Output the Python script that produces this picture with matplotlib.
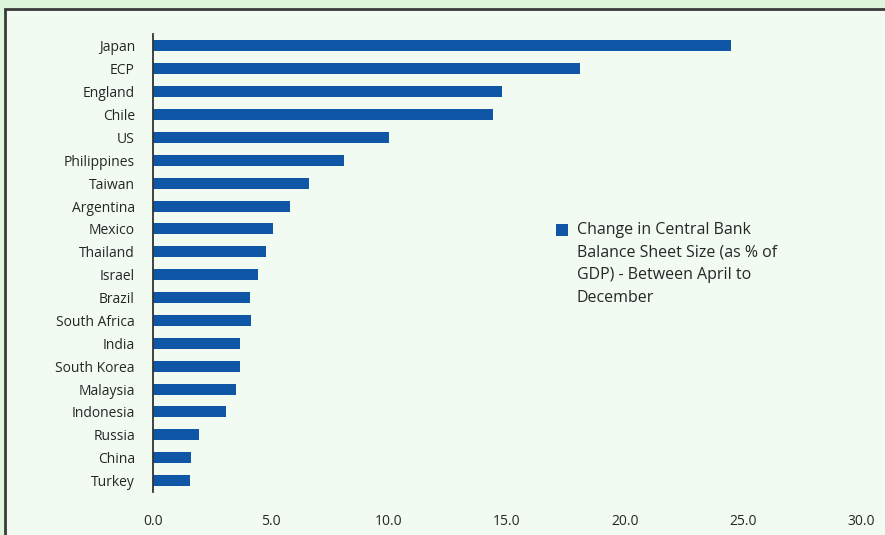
import matplotlib.pyplot as plt
from matplotlib.patches import Rectangle

countries = ['Japan', 'ECP', 'England', 'Chile', 'US', 'Philippines', 'Taiwan',
             'Argentina', 'Mexico', 'Thailand', 'Israel', 'Brazil', 'South Africa',
             'India', 'South Korea', 'Malaysia', 'Indonesia', 'Russia', 'China', 'Turkey']
values = [24.5, 18.1, 14.8, 14.4, 10.0, 8.1, 6.6,
          5.8, 5.1, 4.8, 4.45, 4.1, 4.15,
          3.7, 3.7, 3.5, 3.1, 1.95, 1.6, 1.55]
xticks = [0, 5, 10, 15, 20, 25, 30]
legend_label = 'Change in Central Bank\nBalance Sheet Size (as % of\nGDP) - Between April to\nDecember'

bar_color = '#0f57a6'
panel_color = '#f1fbf1'
outer_color = '#ddf7dc'
text_color = '#262626'

plt.rcParams['font.family'] = ['Open Sans', 'DejaVu Sans']

fig = plt.figure(figsize=(8.85, 5.35), dpi=100)
fig.patch.set_facecolor(outer_color)

W, H = 885, 535
# inner panel with border, kept behind the axes
panel = Rectangle((5 / W, -0.05), 1.0, (H - 9) / H + 0.05, transform=fig.transFigure,
                  facecolor=panel_color, edgecolor='#3a3a3a', linewidth=2, zorder=-5)
fig.patches.append(panel)

ax = fig.add_axes([153 / W, 1 - 492 / H, (861 - 153) / W, (492 - 34.5) / H])
ax.set_facecolor('none')
ax.set_zorder(1)

ypos = list(range(len(countries)))
ax.barh(ypos, values, height=0.48, color=bar_color)
ax.set_ylim(len(countries) - 0.5, -0.5)
ax.set_xlim(0, 30)
ax.set_yticks(ypos)
ax.set_yticklabels(countries, fontsize=10, color=text_color)
ax.set_xticks(xticks)
ax.set_xticklabels([f'{t:.1f}' for t in xticks], fontsize=10, color=text_color)
ax.tick_params(axis='y', length=0, pad=13)
ax.tick_params(axis='x', length=0, pad=16)
for s in ['top', 'right', 'bottom']:
    ax.spines[s].set_visible(False)
ax.spines['left'].set_color('#333333')
ax.spines['left'].set_linewidth(1.3)

# legend drawn by hand so the square sits beside the first line
fig.patches.append(Rectangle((556 / W, 1 - 236 / H), 12 / W, 12 / H,
                             transform=fig.transFigure, facecolor=bar_color,
                             edgecolor='none', zorder=2))
fig.text(577 / W, 1 - 222 / H, legend_label, fontsize=11.5, color=text_color,
         va='top', ha='left', linespacing=1.56, zorder=2)

fig.savefig('out.png', dpi=100, facecolor=fig.get_facecolor())
